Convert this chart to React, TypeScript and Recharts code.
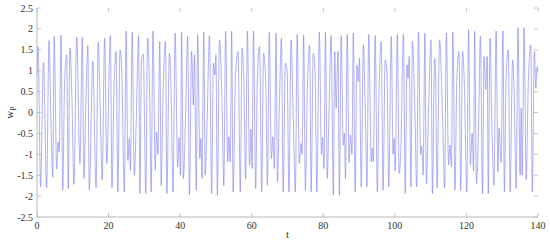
import React from 'react'
import { LineChart, Line, XAxis, YAxis, Label } from 'recharts'

// time samples and w_P values at the turning points
const tVals = [
  0, 0.3, 1.0, 1.8, 2.7, 3.35, 3.9, 4.4, 4.8, 5.5, 5.9, 6.2, 6.7, 7.2, 7.7, 8.3, 8.75, 9.2, 9.8, 10.3,
  11.1, 12.0, 12.65, 13.1, 13.7, 14.2, 14.6, 15.6, 16.5, 17.1, 17.7, 18.2, 18.9, 19.5, 20.5, 20.95, 21.5, 22.1, 22.6, 23.2,
  23.7, 24.4, 24.9, 25.4, 25.8, 26.1, 26.6, 27.2, 27.7, 28.4, 28.75, 29.2, 29.7, 30.4, 30.9, 31.5, 31.9, 32.4, 33.05, 33.4,
  33.8, 34.3, 34.7, 35.2, 35.9, 36.3, 37.0, 37.5, 38.0, 38.6, 39.3, 39.7, 40.1, 40.4, 40.9, 41.5, 42.1, 42.6, 43.2, 43.7,
  44.0, 44.5, 44.9, 45.5, 45.8, 46.1, 46.6, 47.0, 47.5, 48.2, 48.8, 49.3, 49.7, 50.0, 50.4, 51.0, 51.7, 52.2, 52.7, 53.3,
  53.6, 54.0, 54.4, 54.8, 55.5, 56.2, 56.8, 57.3, 57.8, 58.3, 58.8, 59.4, 59.8, 60.1, 60.5, 61.1, 61.55, 62.2, 62.8, 63.3,
  63.9, 64.4, 64.9, 65.5, 65.9, 66.3, 66.8, 67.2, 67.7, 68.3, 68.8, 69.4, 69.9, 70.4, 71.0, 71.6, 72.2, 72.7, 73.3, 73.75,
  74.1, 74.5, 75.0, 75.5, 76.2, 76.6, 77.2, 77.7, 78.2, 78.9, 79.5, 79.8, 80.2, 80.6, 81.1, 81.6, 82.2, 82.8, 83.2, 83.6,
  84.1, 84.5, 85.0, 85.6, 85.9, 86.2, 86.7, 87.2, 87.6, 88.0, 88.4, 88.9, 89.4, 89.8, 90.1, 90.6, 91.2, 91.7, 92.2, 92.7,
  93.4, 93.7, 94.0, 94.5, 95.1, 95.5, 96.2, 96.7, 97.3, 97.8, 98.3, 99.0, 99.5, 99.8, 100.1, 100.7, 101.2, 101.7, 102.4, 102.9,
  103.4, 103.7, 104.0, 104.5, 104.9, 105.6, 106.1, 106.6, 107.2, 107.5, 107.9, 108.4, 108.8, 109.4, 110.1, 110.5, 111.1, 111.4, 111.8, 112.5,
  113.3, 113.9, 114.4, 115.0, 115.4, 115.8, 116.2, 116.8, 117.3, 117.9, 118.4, 118.9, 119.4, 120.1, 120.6, 121.1, 121.6, 122.0, 122.3, 122.8,
  123.4, 123.9, 124.5, 124.9, 125.4, 125.8, 126.1, 126.6, 127.1, 127.7, 128.3, 128.8, 129.1, 129.7, 130.2, 130.6, 131.1, 131.7, 132.2, 132.9,
  133.3, 133.9, 134.4, 135.0, 135.3, 135.6, 136.1, 136.7, 137.3, 138.0, 138.4, 139.0, 139.4, 139.75, 140
]

const wVals = [
  0.9, 1.58, -1.78, 1.2, -1.8, 1.72, -0.2, -1.55, 1.82, -1.35, -0.7, -0.95, 1.85, -1.85, 0.7, 1.38, -1.82, 1.55, 0.2, -1.72,
  1.8, -1.22, 1.8, -1.58, 0.4, 1.6, -1.85, 1.22, -1.8, 1.68, 0, -1.62, 1.78, -1.22, 1.84, -1.8, 0.5, 1.46, -1.9, 1.5,
  0.94, -1.9, 1.95, -1.15, -0.62, -1.38, 1.92, -1.5, -0.3, 1.84, -1.94, 1.26, 1.4, -1.94, 1.78, 0.3, -1.9, 1.95, -1.38, -0.46,
  -1.0, 1.7, -1.75, 0.34, 1.7, -1.94, 1.42, 0.4, -1.9, 1.9, -1.3, -0.6, -1.5, 1.92, -1.58, -0.14, 1.82, -1.98, 1.46, 0.18,
  1.38, -1.86, 1.86, -1.1, -0.62, -1.58, 1.92, -1.5, -0.34, 1.84, -1.94, 1.18, 0.9, 1.38, -1.98, 1.74, 0.26, -1.75, 1.95, -1.18,
  -0.58, -1.18, 1.94, -1.9, 0.94, 1.46, -1.9, 1.54, 0.74, -1.6, 1.95, -1.26, -0.4, -1.34, 1.95, -1.82, 0.7, 1.58, -1.9, 1.42,
  0.78, -1.74, 1.92, -1.1, -0.58, -1.34, 1.9, -1.66, 0.06, 1.78, -1.9, 1.18, 1.0, -1.9, 1.74, -0.1, -1.9, 1.87, -1.22, -0.74,
  -1.0, 1.86, -1.86, 0.38, 1.62, -1.9, 1.42, 0.98, -1.9, 1.92, -1.0, -0.6, -1.34, 1.92, -1.58, 0.02, 1.84, -1.98, 1.46, 0.1,
  1.46, -1.98, 1.84, -0.78, -0.5, -1.58, 1.87, -1.2, -0.54, -1.0, 1.9, -1.9, 1.14, 0.74, 1.3, -1.78, 1.62, 0.18, -1.78, 1.87,
  -1.18, -0.86, -1.18, 1.84, -1.9, 0.18, 1.7, -1.86, 1.26, 0.94, -1.78, 1.82, -1.0, -0.62, -1.4, 1.87, -1.46, -0.8, 1.87, -1.94,
  1.14, 0.82, 1.34, -1.78, 1.7, 0.02, -1.78, 1.92, -1.0, -0.8, -1.5, 1.9, -1.7, 0, 1.74, -1.94, 1.3, 0.8, -1.8, 1.74,
  0, -1.8, 1.9, -1.26, -0.78, -1.3, 1.92, -1.86, 0.74, 1.46, -1.86, 1.46, 0.74, -1.9, 1.98, -1.26, -0.5, -1.4, 1.94, -1.7,
  -0.3, 1.82, -1.94, 1.34, 0.55, 1.34, -1.94, 1.78, -0.26, -1.74, 1.95, -1.42, -0.38, -1.2, 1.95, -1.9, 0.9, 1.5, -1.9, 1.26,
  0.6, -1.82, 2.03, -1.5, 0.1, -1.5, 2.03, -1.6, 0.74, 1.62, -1.9, 1.46, 0.58, 1.1, 0.95
]

const xTicks = [0, 20, 40, 60, 80, 100, 120, 140]
const yTicks = [-2.5, -2, -1.5, -1, -0.5, 0, 0.5, 1, 1.5, 2, 2.5]

const data = tVals.map((t, i) => ({ t, w: wVals[i] }))

const W = 550
const H = 245
const LEFT = 37
const RIGHT = 12
const TOP = 8
const BOTTOM = 28
const plotW = W - LEFT - RIGHT
const plotH = H - TOP - BOTTOM
const font = '"Liberation Serif", "Times New Roman", serif'
const tickColor = '#b8b8b8'

const XTick = (props: any) => {
  const { x, y, payload } = props
  const axisY = y - 3
  return (
    <g>
      <line x1={x} x2={x} y1={axisY} y2={axisY - 4} stroke={tickColor} strokeWidth={0.8} />
      <line x1={x} x2={x} y1={axisY - plotH} y2={axisY - plotH + 4} stroke={tickColor} strokeWidth={0.8} />
      <text x={x} y={axisY + 12} textAnchor="middle" fontSize={10} fill="#333" fontFamily={font}>
        {payload.value}
      </text>
    </g>
  )
}

const YTick = (props: any) => {
  const { x, y, payload } = props
  const axisX = x + 4
  return (
    <g>
      <line x1={axisX} x2={axisX + 4} y1={y} y2={y} stroke={tickColor} strokeWidth={0.8} />
      <line x1={axisX + plotW} x2={axisX + plotW - 4} y1={y} y2={y} stroke={tickColor} strokeWidth={0.8} />
      <text x={x} y={y + 3.5} textAnchor="end" fontSize={10} fill="#333" fontFamily={font}>
        {payload.value}
      </text>
    </g>
  )
}

const YLabel = (props: any) => {
  const vb = props.viewBox || { x: 0, y: TOP, height: plotH }
  const cx = vb.x + 13
  const cy = vb.y + vb.height / 2
  return (
    <text x={cx} y={cy} transform={`rotate(-90 ${cx} ${cy})`} textAnchor="middle" fontSize={11} fill="#333" fontFamily={font}>
      w<tspan fontSize={8} dy={3}>P</tspan>
    </text>
  )
}

export default function App() {
  return (
    <div style={{ position: 'absolute', left: 0, top: 0, width: W, height: H, background: '#fff' }}>
      <LineChart width={W} height={H} data={data} margin={{ top: TOP, right: RIGHT, bottom: 0, left: 0 }}>
        <XAxis
          dataKey="t"
          type="number"
          domain={[0, 140]}
          ticks={xTicks}
          height={BOTTOM}
          tickSize={0}
          tickMargin={3}
          tick={<XTick />}
          axisLine={{ stroke: tickColor }}
          interval={0}
        >
          <Label value="t" position="bottom" offset={-15} style={{ fontSize: 11, fill: '#333', fontFamily: font }} />
        </XAxis>
        <XAxis xAxisId="top" orientation="top" dataKey="t" type="number" domain={[0, 140]} height={0} tick={false} tickLine={false} axisLine={{ stroke: tickColor }} />
        <YAxis
          type="number"
          domain={[-2.5, 2.5]}
          ticks={yTicks}
          width={LEFT}
          tickSize={0}
          tickMargin={4}
          tick={<YTick />}
          axisLine={{ stroke: tickColor }}
          interval={0}
          label={{ content: <YLabel /> }}
        />
        <YAxis yAxisId="right" orientation="right" type="number" domain={[-2.5, 2.5]} width={0} tick={false} tickLine={false} axisLine={{ stroke: tickColor }} />
        <Line
          type="monotone"
          dataKey="w"
          stroke="#7a7af2"
          strokeWidth={0.7}
          strokeOpacity={0.85}
          dot={false}
          isAnimationActive={false}
        />
      </LineChart>
    </div>
  )
}
